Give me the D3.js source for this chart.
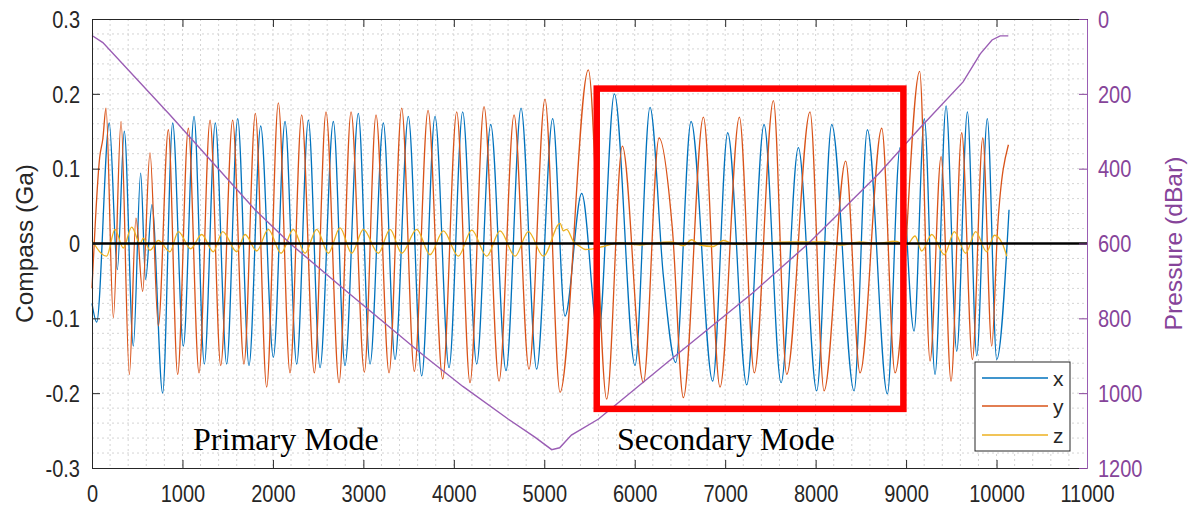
<!DOCTYPE html>
<html>
<head>
<meta charset="utf-8">
<script src="https://cdn.jsdelivr.net/npm/d3@7"></script>
<style>
  body { margin: 0; background: #fff; }
  svg { display: block; font-family: "Liberation Sans", Arial, sans-serif; }
</style>
</head>
<body>
<div id="chart"></div>
<script>
// Compass x component: [sample, Ga] read at peaks / troughs
const compassX = [
  [0, -0.080], [52, -0.105], [191, 0.161], [280, -0.035], [357, 0.150], [457, -0.137],
  [538, 0.094], [593, -0.048], [663, 0.052], [781, -0.200], [892, 0.161], [1010, -0.137],
  [1128, 0.170], [1242, -0.161], [1363, 0.161], [1489, -0.161], [1611, 0.167], [1736, -0.163],
  [1865, 0.157], [2005, -0.152], [2134, 0.163], [2263, -0.161], [2392, 0.165], [2521, -0.166],
  [2668, 0.163], [2797, -0.163], [2944, 0.174], [3074, -0.161], [3221, 0.161], [3350, -0.155],
  [3497, 0.170], [3645, -0.177], [3792, 0.170], [3947, -0.166], [4098, 0.176], [4253, -0.161],
  [4408, 0.159], [4577, -0.170], [4743, 0.181], [4916, -0.168], [5093, 0.167], [5229, -0.097],
  [5414, 0.067], [5598, -0.124], [5775, 0.200], [6003, -0.163], [6169, 0.182], [6317, -0.044],
  [6453, -0.159], [6623, 0.163], [6862, -0.184], [7028, 0.148], [7238, -0.189], [7430, 0.159],
  [7618, -0.186], [7809, 0.128], [8012, -0.197], [8178, 0.159], [8425, -0.197], [8572, 0.152],
  [8793, -0.201], [8933, 0.128], [9088, -0.117], [9202, 0.167], [9320, -0.175], [9442, 0.184],
  [9560, -0.144], [9678, 0.176], [9781, -0.150], [9898, 0.167], [10002, -0.155], [10138, 0.045]
];

// Compass y component
const compassY = [
  [0, -0.060], [85, 0.115], [120, 0.140], [155, 0.181], [236, -0.099], [321, 0.163],
  [413, -0.175], [486, 0.034], [560, -0.064], [641, 0.121], [733, -0.110], [844, 0.152],
  [947, -0.175], [1065, 0.154], [1183, -0.173], [1305, 0.165], [1423, -0.163], [1555, 0.165],
  [1680, -0.161], [1806, 0.174], [1931, -0.192], [2060, 0.188], [2189, -0.173], [2318, 0.172],
  [2458, -0.173], [2587, 0.176], [2731, -0.186], [2864, 0.176], [3011, -0.172], [3140, 0.172],
  [3284, -0.173], [3424, 0.181], [3563, -0.171], [3715, 0.178], [3877, -0.181], [4032, 0.176],
  [4179, -0.186], [4334, 0.183], [4500, -0.184], [4666, 0.172], [4831, -0.168], [5008, 0.193],
  [5174, -0.199], [5487, 0.232], [5690, -0.208], [5863, 0.130], [6096, -0.186], [6269, 0.141],
  [6416, 0.020], [6538, -0.206], [6759, 0.169], [6943, -0.192], [7157, 0.169], [7322, -0.173],
  [7533, 0.191], [7680, -0.175], [7938, 0.176], [8093, -0.197], [8332, 0.110], [8491, -0.173],
  [8731, 0.154], [8878, -0.173], [9150, 0.230], [9265, -0.157], [9387, 0.116], [9497, -0.184],
  [9615, 0.148], [9733, -0.155], [9848, 0.141], [9947, -0.137], [10013, 0.023], [10131, 0.132]
];

// Compass z component
const compassZ = [
  [0, 0.004], [162, -0.017], [254, 0.019], [346, -0.006], [439, 0.022], [531, 0.000],
  [567, 0.007], [641, -0.009], [733, 0.004], [862, -0.011], [954, 0.016], [1091, -0.007],
  [1213, 0.012], [1341, -0.011], [1445, 0.016], [1600, -0.011], [1692, 0.012], [1821, -0.010],
  [1949, 0.019], [2090, -0.013], [2226, 0.019], [2355, -0.013], [2484, 0.019], [2613, -0.013],
  [2742, 0.021], [2871, -0.013], [3000, 0.019], [3166, -0.013], [3295, 0.019], [3424, -0.013],
  [3590, 0.019], [3737, -0.015], [3884, 0.017], [4050, -0.017], [4198, 0.018], [4364, -0.017],
  [4511, 0.017], [4677, -0.017], [4824, 0.016], [4990, -0.017], [5174, 0.027], [5211, 0.017],
  [5248, 0.019], [5321, 0.003], [5395, -0.004], [5451, -0.008], [5653, -0.004], [5819, 0.001],
  [6059, -0.002], [6188, 0.000], [6409, 0.002], [6538, -0.003], [6630, 0.005], [6722, -0.002],
  [6869, -0.004], [6980, 0.004], [7109, -0.001], [7293, 0.000], [7496, 0.001], [7717, 0.002],
  [8123, 0.002], [8270, -0.002], [8491, 0.002], [8675, 0.000], [8878, 0.003], [9007, -0.002],
  [9099, 0.010], [9173, -0.010], [9284, 0.012], [9423, -0.015], [9533, 0.016], [9659, -0.013],
  [9769, 0.016], [9891, -0.011], [9976, 0.011], [10064, 0.000], [10113, -0.017]
];

// Pressure (dBar), right axis
const pressure = [
  [0, 44], [120, 63], [860, 256], [1800, 509], [2190, 600], [2800, 725], [3680, 902],
  [4100, 982], [4600, 1069], [4900, 1118], [5082, 1151], [5170, 1146], [5300, 1112], [5600, 1069],
  [6500, 890], [7300, 733], [7920, 600], [8700, 413], [9150, 292], [9630, 168],
  [9820, 93], [9950, 56], [10040, 45], [10130, 45]
];

const xTicks = [0, 1000, 2000, 3000, 4000, 5000, 6000, 7000, 8000, 9000, 10000, 11000];
const yTicks = [-0.3, -0.2, -0.1, 0, 0.1, 0.2, 0.3];
const pTicks = [0, 200, 400, 600, 800, 1000, 1200];
const seriesNames = ['x', 'y', 'z'];
const modeLabels = [['Primary Mode', 1117], ['Secondary Mode', 5804]];
const highlight = { x0: 5580, x1: 8970, y0: -0.221, y1: 0.207 };

const colors = { x: '#0072BD', y: '#D95319', z: '#EDB120', p: '#9A5DB4', pAxis: '#86449A' };
const axisGrey = '#262626';

const W = 1195, H = 506;
const margin = { top: 19, right: 108, bottom: 38, left: 92 };
const width = W - margin.left - margin.right;
const height = H - margin.top - margin.bottom;

const x = d3.scaleLinear().domain([0, 11000]).range([0, width]);
const y = d3.scaleLinear().domain([-0.3, 0.3]).range([height, 0]);
const yR = d3.scaleLinear().domain([0, 1200]).range([0, height]);

const svg = d3.select('#chart').append('svg')
  .attr('width', W)
  .attr('height', H);

const g = svg.append('g')
  .attr('transform', `translate(${margin.left},${margin.top})`);

// minor dotted grid
const grid = g.append('g').attr('stroke', '#d4d4d4').attr('stroke-dasharray', '2,3');
grid.selectAll('.vg').data(d3.range(200, 11000, 200)).enter().append('line')
  .attr('x1', d => x(d)).attr('x2', d => x(d))
  .attr('y1', 0).attr('y2', height);
grid.selectAll('.hg').data(d3.range(-14, 15).map(i => i * 0.02)).enter().append('line')
  .attr('x1', 0).attr('x2', width)
  .attr('y1', d => y(d)).attr('y2', d => y(d));

// series
const line = d3.line()
  .x(d => x(d[0]))
  .y(d => y(d[1]))
  .curve(d3.curveMonotoneX);

[['x', compassX], ['y', compassY], ['z', compassZ]].forEach(([k, data]) => {
  g.append('path')
    .attr('fill', 'none')
    .attr('stroke', colors[k])
    .attr('stroke-width', 1.3)
    .attr('d', line(data));
});

const pLine = d3.line()
  .x(d => x(d[0]))
  .y(d => yR(d[1]));

g.append('path')
  .attr('fill', 'none')
  .attr('stroke', colors.p)
  .attr('stroke-width', 1.4)
  .attr('d', pLine(pressure));

// zero line
g.append('line')
  .attr('x1', x(0)).attr('x2', x(11000))
  .attr('y1', y(0)).attr('y2', y(0))
  .attr('stroke', '#000')
  .attr('stroke-width', 2.6);

// axes
const fmtY = d => String(+d.toFixed(1));

const styleAxis = (sel, color) => {
  sel.select('.domain').attr('stroke', color);
  sel.selectAll('.tick line').attr('stroke', color);
  sel.selectAll('.tick text')
    .attr('fill', color)
    .style('font-size', '20px')
    .attr('x', 0).attr('y', 0).attr('dy', 0);
};

const axisB = g.append('g')
  .attr('transform', `translate(0,${height})`)
  .call(d3.axisBottom(x).tickValues(xTicks).tickSize(-8).tickSizeOuter(0).tickFormat(d3.format('d')));
styleAxis(axisB, axisGrey);
axisB.selectAll('.tick text').attr('transform', 'translate(0,33.5) scale(1,1.15)');

const axisT = g.append('g')
  .call(d3.axisTop(x).tickValues(xTicks).tickSize(-8).tickSizeOuter(0).tickFormat(''));
styleAxis(axisT, axisGrey);

const axisL = g.append('g')
  .call(d3.axisLeft(y).tickValues(yTicks).tickSize(-8).tickSizeOuter(0).tickFormat(fmtY));
styleAxis(axisL, axisGrey);
axisL.selectAll('.tick text').attr('text-anchor', 'end')
  .attr('transform', 'translate(-12,8.3) scale(1,1.15)');

const axisR = g.append('g')
  .attr('transform', `translate(${width},0)`)
  .call(d3.axisRight(yR).tickValues(pTicks).tickSize(-8).tickSizeOuter(0).tickFormat(d3.format('d')));
styleAxis(axisR, colors.pAxis);
axisR.select('.domain').attr('stroke', colors.p);
axisR.selectAll('.tick text').attr('text-anchor', 'start')
  .attr('transform', 'translate(11,8.3) scale(1,1.15)');

// axis titles
svg.append('text')
  .attr('transform', `translate(33,${margin.top + height / 2}) rotate(-90)`)
  .attr('text-anchor', 'middle')
  .attr('fill', axisGrey)
  .style('font-size', '24px')
  .attr('textLength', 159)
  .attr('lengthAdjust', 'spacingAndGlyphs')
  .text('Compass (Ga)');

svg.append('text')
  .attr('transform', `translate(1182,${margin.top + height / 2}) rotate(-90)`)
  .attr('text-anchor', 'middle')
  .attr('fill', colors.pAxis)
  .style('font-size', '24px')
  .attr('textLength', 174)
  .attr('lengthAdjust', 'spacingAndGlyphs')
  .text('Pressure (dBar)');

// mode labels
g.selectAll('.mode').data(modeLabels).enter().append('text')
  .attr('x', d => x(d[1]))
  .attr('y', y(-0.276))
  .attr('fill', '#000')
  .style('font-family', '"Liberation Serif", "Times New Roman", serif')
  .style('font-size', '32px')
  .text(d => d[0]);

// highlight box
g.append('rect')
  .attr('x', x(highlight.x0))
  .attr('y', y(highlight.y1))
  .attr('width', x(highlight.x1) - x(highlight.x0))
  .attr('height', y(highlight.y0) - y(highlight.y1))
  .attr('fill', 'none')
  .attr('stroke', '#FF0000')
  .attr('stroke-width', 6.5);

// legend
const legend = svg.append('g').attr('transform', 'translate(975,362)');
legend.append('rect')
  .attr('width', 95).attr('height', 89)
  .attr('fill', '#fff')
  .attr('stroke', axisGrey);
seriesNames.forEach((s, i) => {
  const ly = [16, 44, 73][i];
  legend.append('line')
    .attr('x1', 7).attr('x2', 73)
    .attr('y1', ly).attr('y2', ly)
    .attr('stroke', colors[s])
    .attr('stroke-width', 1.3);
  legend.append('text')
    .attr('x', 78).attr('y', ly + 8)
    .attr('fill', axisGrey)
    .style('font-size', '21px')
    .text(s);
});
</script>
</body>
</html>
